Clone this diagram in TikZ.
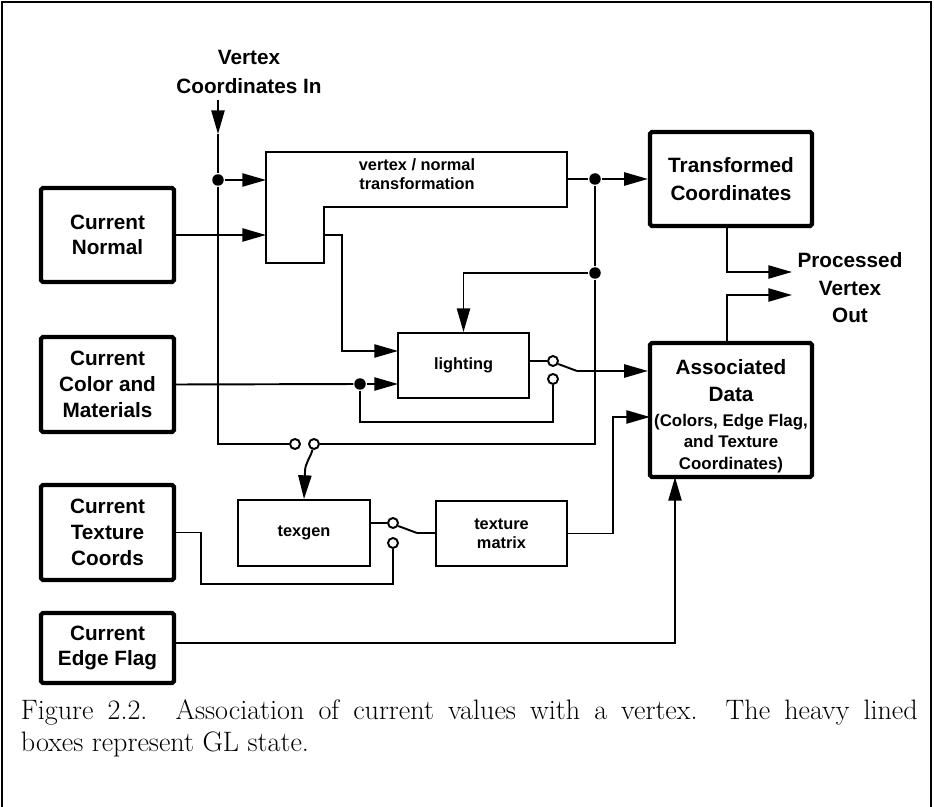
\documentclass[tikz,border=0pt]{standalone}
\usepackage{fontspec}
\newfontfamily\labfont{Liberation Sans}
\newcommand\sublbl{\fontsize{9.6}{12.6}\selectfont}
\usetikzlibrary{arrows.meta}

\begin{document}
\begin{tikzpicture}
[x=0.02cm, y=-0.02cm, line width=1.1pt,
>={Triangle[length=13.5pt,width=7.5pt]},
lbig/.style={font=\labfont\bfseries\fontsize{11.8}{14.6}\selectfont, align=center, inner sep=0pt},
lsmall/.style={font=\labfont\bfseries\fontsize{9.3}{11}\selectfont, align=center, inner sep=0pt},
glstate/.style={lbig, rectangle, draw, line width=2.4pt, rounded corners=1pt, minimum width=2.66cm},
proc/.style={lsmall, rectangle, draw, line width=1.1pt, minimum width=2.62cm, minimum height=1.3cm},
junct/.style={circle, fill, inner sep=0pt, minimum size=0.23cm},
contact/.style={circle, draw, fill=white, line width=1.1pt, inner sep=0pt, minimum size=0.2cm},
captext/.style={font=\fontsize{16}{18}\selectfont, text width=17.94cm, align=justify, inner sep=0pt}]

\useasboundingbox (0,0) rectangle (934,807);
\draw[line width=1.3pt] (2,815) -- (2,2) -- (931,2) -- (931,815);

% GL state boxes
\node[glstate, minimum height=1.88cm] (nrm) at (107.5,235) {Current\\Normal};
\node[glstate, minimum height=1.9cm] (col) at (107.5,384.5) {Current\\Color and\\Materials};
\node[glstate, minimum height=1.9cm] (tex) at (107.5,532.5) {Current\\Texture\\Coords};
\node[glstate, minimum height=1.4cm] (edg) at (107.5,648) {Current\\Edge Flag};
\node[glstate, minimum width=3.24cm, minimum height=1.88cm] (trf) at (731,179) {Transformed\\[1.5pt]Coordinates};
\node[glstate, minimum width=3.24cm, minimum height=2.68cm] (asc) at (731,410) {};
\node[lbig] (asctxt) at (731,416)
  {Associated\\[1.3pt]Data\\[-0.6pt]\sublbl (Colors, Edge Flag,\\[-2.6pt]\sublbl and Texture\\[-2.2pt]\sublbl Coordinates)};

% processing boxes
\draw (266,152) -- (567,152) -- (567,207) -- (324,207) -- (324,263) -- (266,263) -- cycle;
\node[lsmall] (vnt) at (417,174) {vertex / normal\\transformation};
\node[proc] (lgt) at (463.5,365.5) {lighting};
\node[proc, minimum width=2.64cm, minimum height=1.32cm] (tgn) at (304,533) {texgen};
\node[proc] (txm) at (501.5,533.5) {texture\\matrix};

\node[lbig, font=\labfont\bfseries\fontsize{11.8}{17}\selectfont] (vin) at (249,72) {Vertex\\Coordinates In};
\node[lbig, font=\labfont\bfseries\fontsize{11.8}{15.6}\selectfont] (pvo) at (850,288) {Processed\\Vertex\\Out};

% junctions and switch contacts
\node[junct] (j1) at (218,180) {};
\node[junct] (j2) at (595,179) {};
\node[junct] (j3) at (595,273) {};
\node[junct] (j4) at (360,384) {};
\node[contact] (s1a) at (295,444) {};
\node[contact] (s1b) at (314,444) {};
\node[contact] (s2a) at (553,361) {};
\node[contact] (s2b) at (553,379) {};
\node[contact] (s3a) at (393,523) {};
\node[contact] (s3b) at (393,543) {};

\coordinate (vi) at (218,100);
\coordinate (vm) at (218,134);
\coordinate (vntin1) at (266,180);
\coordinate (vntin2) at (266,235);
\coordinate (vntnrm) at (324,235);
\coordinate (vntout) at (567,179);
\coordinate (b1) at (342,300);
\coordinate (lgtin1) at (398,351);
\coordinate (lgtin2) at (398,384);
\coordinate (b2) at (553,422);
\coordinate (bl1) at (305,472);
\coordinate (bl2) at (577,371);
\coordinate (bl3) at (417,533);
\coordinate (b3) at (613,470);
\coordinate (ascin2) at (650,417);
\coordinate (b4) at (201,560);
\coordinate (b5) at (393,584);
\coordinate (edgout) at (174,643);
\coordinate (ascin3) at (675,477);
\coordinate (trfout) at (727,226);
\coordinate (ascout) at (727,343);
\coordinate (pvin1) at (792,272);
\coordinate (pvin2) at (792,295);

% connectors
\draw[->] (vi) -- (vm);
\draw (vm) -- (j1);
\draw[->] (j1) -- (vntin1);
\draw (j1) |- (s1a);
\draw (j3) |- (s1b);
\draw[->] (s1b) to[out=-105, in=90] (bl1) -- (tgn.north);
\draw[->] (nrm) -- (vntin2);
\draw[->] (vntnrm) -| (b1) |- (lgtin1);
\draw (vntout) -- (j2);
\draw[->] (j2) -- (trf);
\draw (j2) -- (j3);
\draw[->] (j3) -| (lgt);
\draw (col.east) -- (j4);
\draw[->] (j4) -- (lgtin2);
\draw (j4) |- (b2) -- (s2b);
\draw (lgt.east |- s2a) -- (s2a);
\draw (s2a.-30) -- (bl2);
\draw[->] (bl2) -- (asc.west |- bl2);
\draw[->] (txm) -| (b3) |- (ascin2);
\draw (tgn.east |- s3a) -- (s3a);
\draw (s3a.-30) -- (bl3);
\draw (bl3) -- (txm.west |- bl3);
\draw (tex) -| (b4) |- (b5) -- (s3b);
\draw[->] (edgout) -| (ascin3);
\draw[->] (trfout) |- (pvin1);
\draw[->] (ascout) |- (pvin2);

\node[captext, anchor=north west] (cap) at (20,699) {Figure 2.2. Association of current values with a vertex. The heavy lined\linebreak boxes represent GL state.};
\end{tikzpicture}
\end{document}
